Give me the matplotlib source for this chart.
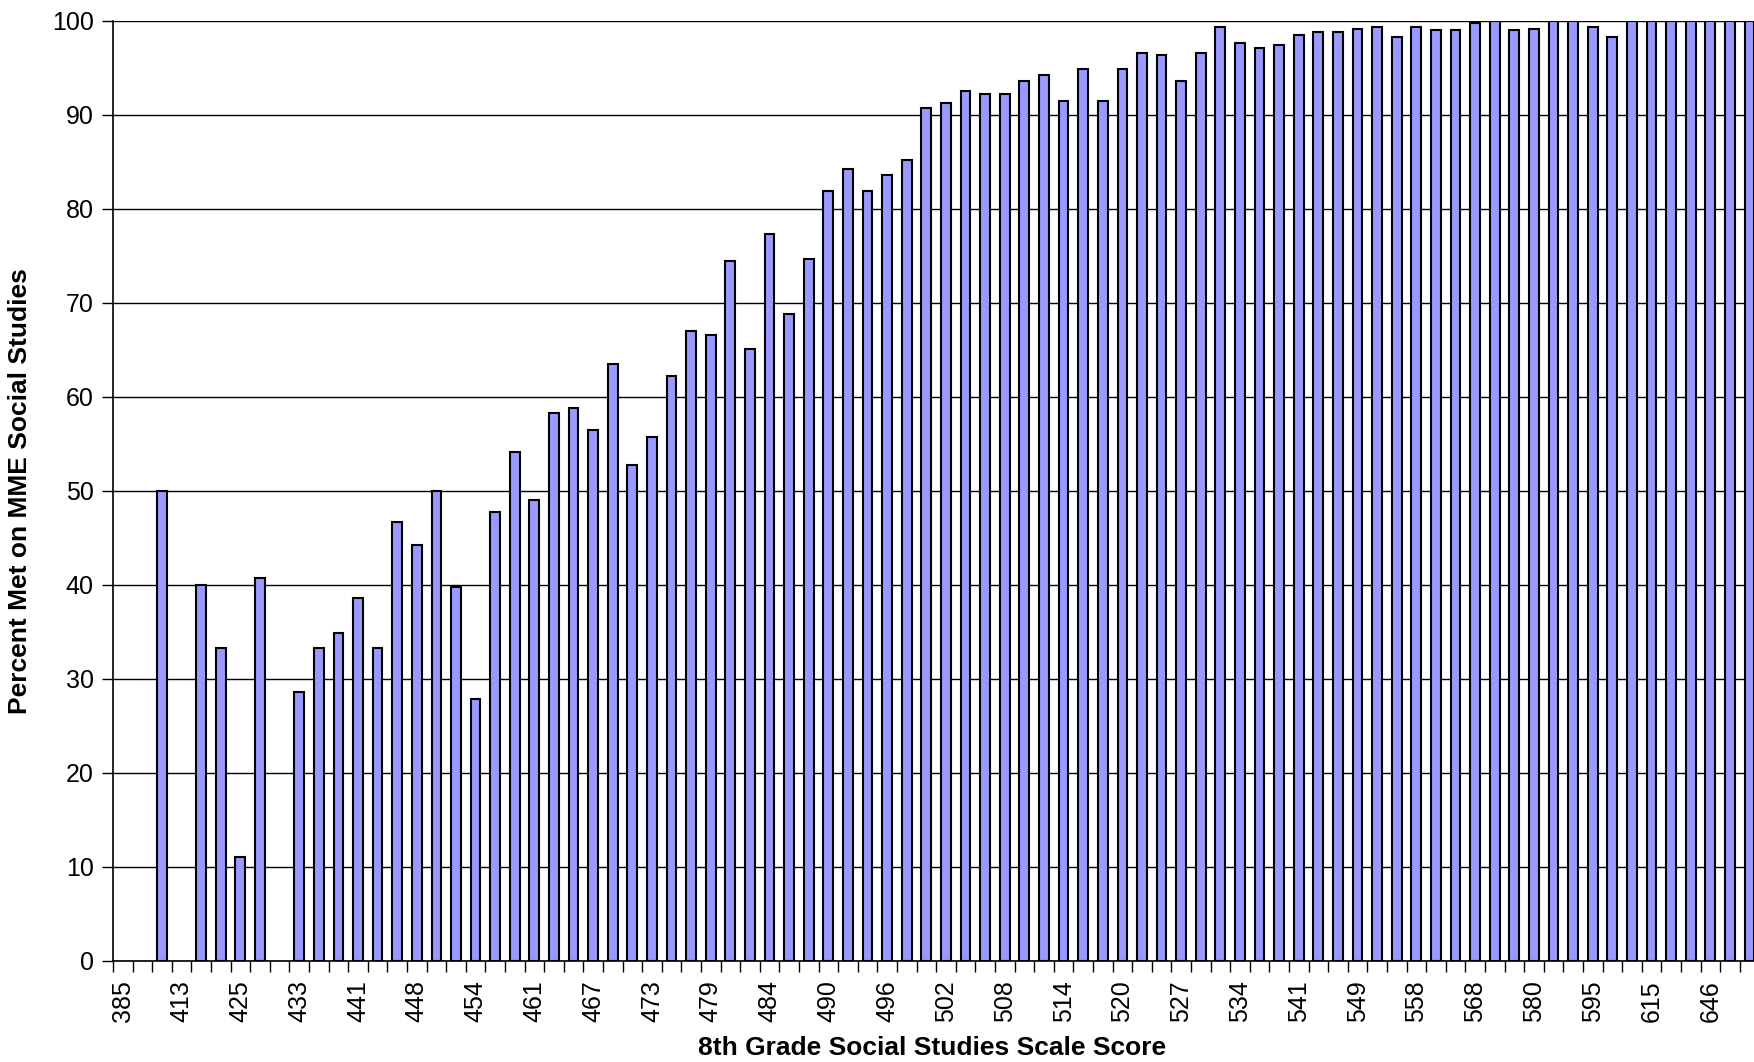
import numpy as np
import matplotlib
matplotlib.use("Agg")
import matplotlib.pyplot as plt

plt.rcParams['font.family'] = ['Liberation Sans', 'DejaVu Sans']

# Percent met, one value per scale-score category (NaN = no bar)
values = [
    np.nan, np.nan, 50.0, np.nan, 40.0, 33.3, 11.1, 40.7, np.nan, 28.6,
    33.3, 34.9, 38.6, 33.3, 46.7, 44.3, 50.0, 39.8, 27.9, 47.8,
    54.1, 49.0, 58.3, 58.8, 56.5, 63.5, 52.8, 55.7, 62.2, 67.0,
    66.6, 74.5, 65.1, 77.3, 68.8, 74.7, 81.9, 84.3, 81.9, 83.6,
    85.2, 90.7, 91.3, 92.6, 92.2, 92.2, 93.6, 94.3, 91.5, 94.9,
    91.5, 94.9, 96.6, 96.4, 93.6, 96.6, 99.4, 97.7, 97.1, 97.5,
    98.5, 98.8, 98.8, 99.2, 99.4, 98.3, 99.4, 99.0, 99.0, 99.8,
    100.0, 99.0, 99.2, 100.0, 100.0, 99.4, 98.3, 100.0, 100.0, 100.0,
    100.0, 100.0, 100.0, 100.0,
]

# Labels shown on every third category
tick_labels = ['385', '413', '425', '433', '441', '448', '454', '461', '467',
               '473', '479', '484', '490', '496', '502', '508', '514', '520',
               '527', '534', '541', '549', '558', '568', '580', '595', '615',
               '646']

W, H = 1754, 1062
fig = plt.figure(figsize=(W / 100, H / 100), dpi=100)
n = len(values)
left_px, right_px = 113, 113 + n * 19.6
bottom_px, top_px = 961, 21
ax = fig.add_axes([left_px / W, (H - bottom_px) / H,
                   (right_px - left_px) / W, (bottom_px - top_px) / H])

x = np.arange(n)
ax.bar(x, values, width=0.5, color='#9999FF', edgecolor='black',
       linewidth=1.5, zorder=3)

ax.set_xlim(-0.5, n - 0.5)
ax.set_ylim(0, 100)
ax.set_yticks(np.arange(0, 101, 10))
ax.yaxis.grid(True, color='black', linewidth=1.0, zorder=0)
ax.set_axisbelow(True)

ax.set_xticks(np.arange(0, 3 * len(tick_labels), 3))
ax.set_xticklabels(tick_labels, rotation=90, fontsize=18)
ax.set_xticks(np.arange(-0.5, n, 1), minor=True)
ax.tick_params(axis='x', which='major', length=0, pad=14)
ax.tick_params(axis='x', which='minor', length=8, width=1.0, direction='out')
ax.tick_params(axis='y', length=8, width=1.0, direction='out', pad=6,
               labelsize=18)

for s in ['top', 'right']:
    ax.spines[s].set_visible(False)
ax.spines['left'].set_linewidth(1.2)
ax.spines['bottom'].set_linewidth(1.2)

fig.text(20 / W, 1 - 491 / H, 'Percent Met on MME Social Studies',
         rotation=90, ha='center', va='center', fontsize=19,
         fontweight='bold')
fig.text(932 / W, 1 - 1048 / H, '8th Grade Social Studies Scale Score',
         ha='center', va='center', fontsize=19, fontweight='bold')

fig.savefig('out.png', dpi=100)
